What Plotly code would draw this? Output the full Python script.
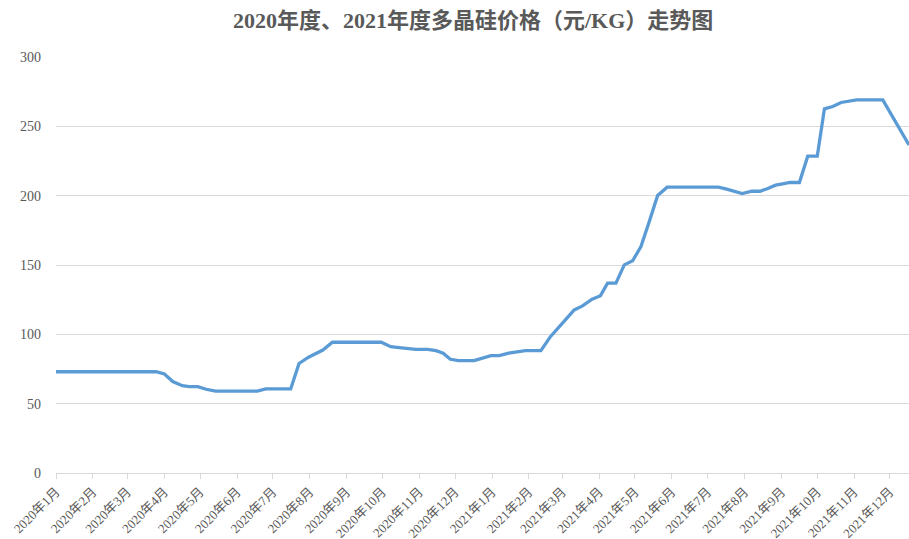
import plotly.graph_objects as go

# Data
dates = [
    "2020-01-01", "2020-03-25", "2020-04-01", "2020-04-08", "2020-04-16", "2020-04-22",
    "2020-04-29", "2020-05-06", "2020-05-14", "2020-06-18", "2020-06-25", "2020-07-16",
    "2020-07-23", "2020-07-31", "2020-08-12", "2020-08-20", "2020-09-30", "2020-10-08",
    "2020-10-15", "2020-10-21", "2020-10-29", "2020-11-08", "2020-11-15", "2020-11-21",
    "2020-11-27", "2020-12-04", "2020-12-17", "2020-12-31", "2021-01-07", "2021-01-15",
    "2021-01-29", "2021-02-11", "2021-02-19", "2021-03-03", "2021-03-11", "2021-03-18",
    "2021-03-26", "2021-04-02", "2021-04-08", "2021-04-15", "2021-04-22", "2021-04-29",
    "2021-05-06", "2021-05-13", "2021-05-20", "2021-05-28", "2021-07-10", "2021-07-17",
    "2021-07-30", "2021-08-07", "2021-08-14", "2021-08-20", "2021-08-27", "2021-09-02",
    "2021-09-08", "2021-09-16", "2021-09-23", "2021-10-01", "2021-10-07", "2021-10-14",
    "2021-10-21", "2021-11-03", "2021-11-25", "2021-12-17",
]
prices = [
    73.0, 73.0, 71.4, 66.0, 63.0, 62.3,
    62.3, 60.4, 59.0, 59.0, 60.6, 60.6,
    79.0, 83.5, 88.7, 94.3, 94.3, 91.1,
    90.4, 90.0, 89.2, 89.2, 88.2, 86.4,
    82.0, 81.0, 81.0, 84.6, 84.6, 86.4,
    88.2, 88.2, 98.3, 109.9, 117.6, 120.5,
    125.3, 127.9, 136.9, 136.9, 150.1, 153.0,
    163.3, 181.3, 200.1, 206.1, 206.1, 204.7,
    201.5, 203.2, 203.2, 205.0, 207.6, 208.5,
    209.5, 209.5, 228.5, 228.5, 262.6, 264.3,
    267.2, 269.1, 269.1, 236.6,
]

tick_dates = [f"{y}-{m:02d}-01" for y in (2020, 2021) for m in range(1, 13)]
tick_labels = [f"{y}年{m}月" for y in (2020, 2021) for m in range(1, 13)]
y_ticks = [0, 50, 100, 150, 200, 250, 300]

title_text = "2020年度、2021年度多晶硅价格（元/KG）走势图"

serif = "Liberation Serif, Times New Roman, Noto Sans CJK SC, serif"

fig = go.Figure()
fig.add_trace(go.Scatter(
    x=dates, y=prices, mode="lines",
    line=dict(color="#5b9bd5", width=3.3),
    hoverinfo="x+y", showlegend=False,
))

fig.update_layout(
    width=909, height=539,
    margin=dict(l=56, r=0, t=57, b=66, autoexpand=False),
    paper_bgcolor="white", plot_bgcolor="white",
    title=dict(
        text=f"<b>{title_text}</b>",
        x=0.489, xanchor="center", y=1 - 20 / 539, yanchor="middle",
        xref="paper", yref="container",
        font=dict(family=serif, size=22, color="#595959"),
    ),
    xaxis=dict(
        type="date",
        range=["2020-01-01", "2021-12-17"],
        tickmode="array", tickvals=tick_dates, ticktext=tick_labels,
        tickangle=-45,
        tickfont=dict(family=serif, size=13, color="#595959"),
        showgrid=False, zeroline=False,
        showline=True, linecolor="#d9d9d9", linewidth=1,
        ticks="outside", ticklen=5, tickcolor="#d9d9d9",
        automargin=False,
    ),
    yaxis=dict(
        range=[0, 300],
        tickmode="array", tickvals=y_ticks,
        tickfont=dict(family=serif, size=14, color="#595959"),
        showgrid=True, gridcolor="#d9d9d9", gridwidth=1,
        zeroline=False, showline=False, ticks="",
        ticklabelstandoff=14,
        automargin=False,
    ),
)

fig.write_html(
    "out.html",
    config={"displayModeBar": False},
    post_script="document.body.style.margin='0';document.body.style.overflow='hidden';",
)
